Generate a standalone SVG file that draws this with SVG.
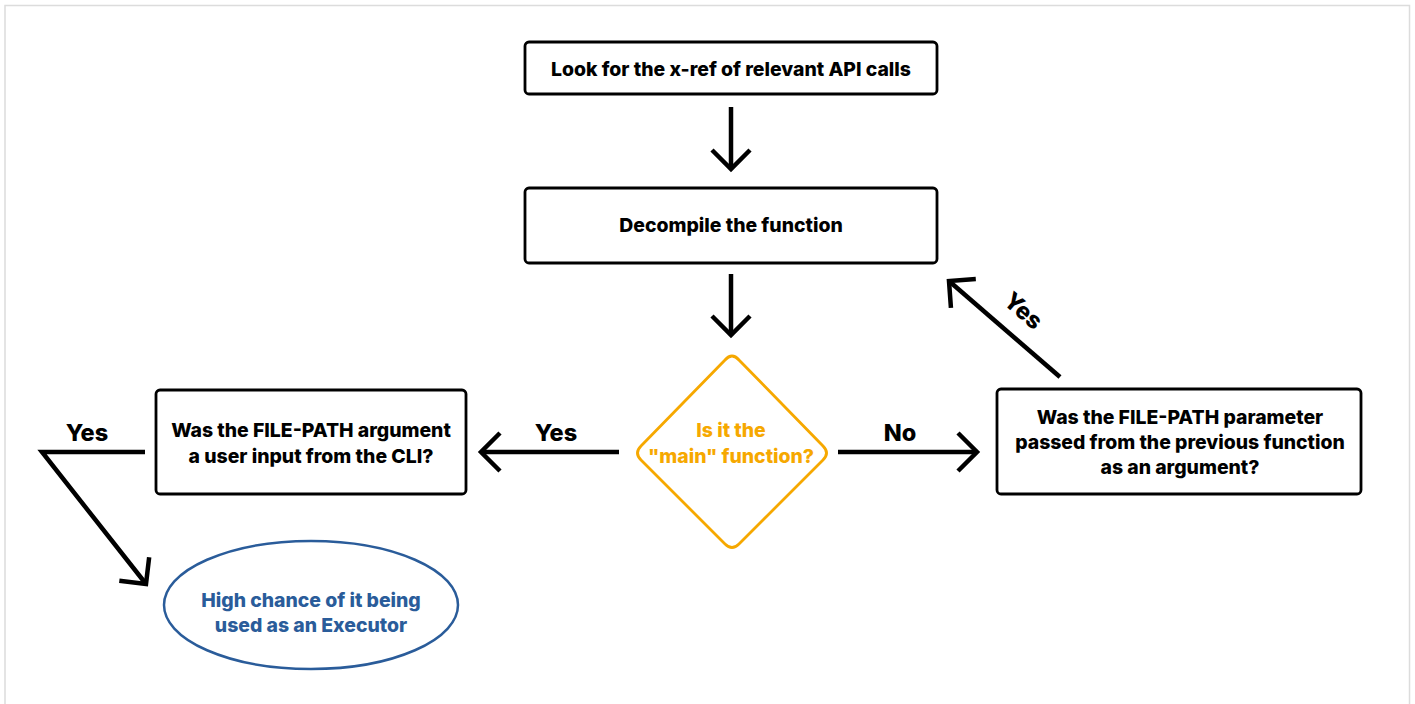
<svg xmlns="http://www.w3.org/2000/svg" width="1415" height="704" viewBox="0 0 1415 704">
<defs>
<style>
.box{fill:#fff;stroke:#000;stroke-width:2.8}
.t{font-family:Inter,"Noto Sans",sans-serif;font-weight:800;font-size:19.4px;fill:#000;text-anchor:middle}
.lbl{font-family:Inter,"Noto Sans",sans-serif;font-weight:800;font-size:23.5px;fill:#000;text-anchor:middle}
.or{fill:#f6a800}
.bl{fill:#2a5c9a}
.c{fill:none;stroke:#000;stroke-width:4.5}
</style>
<marker id="ah" markerUnits="userSpaceOnUse" viewBox="-26 -26 52 52" markerWidth="52" markerHeight="52" refX="0" refY="0" orient="auto">
<path d="M-19,-19 L0,0 L-19,19" fill="none" stroke="#000" stroke-width="4.5"/>
</marker>
</defs>
<rect x="0" y="0" width="1415" height="704" fill="#fff"/>
<rect x="5" y="5.5" width="1404.5" height="710" fill="none" stroke="#dcdcdc" stroke-width="1.5"/>

<g id="connectors">
<line class="c" x1="731" y1="107" x2="731" y2="169" marker-end="url(#ah)"/>
<line class="c" x1="731" y1="274" x2="731" y2="335" marker-end="url(#ah)"/>
<line class="c" x1="838" y1="452" x2="977" y2="452" marker-end="url(#ah)"/>
<line class="c" x1="619" y1="452" x2="481" y2="452" marker-end="url(#ah)"/>
<line class="c" x1="1060" y1="377" x2="949" y2="281" marker-end="url(#ah)"/>
<polyline class="c" points="145,452 42,452 146,584" marker-end="url(#ah)"/>
<text class="lbl" x="900" y="441">No</text>
<text class="lbl" x="556" y="441">Yes</text>
<text class="lbl" x="87" y="441">Yes</text>
<text class="lbl" transform="translate(1018,317) rotate(41)">Yes</text>
</g>

<g id="n1">
<rect class="box" x="525" y="42" width="412" height="52" rx="4"/>
<text class="t" x="731" y="76">Look for the x-ref of relevant API calls</text>
</g>
<g id="n2">
<rect class="box" x="525" y="188" width="412" height="75" rx="4"/>
<text class="t" x="731" y="232">Decompile the function</text>
</g>
<g id="n3">
<path d="M725,360 Q732,352 739,360 L823,446 Q830,453 823,460 L739,544 Q732,551 725,544 L641,460 Q634,453 641,446 Z" fill="#fff" stroke="#f6a800" stroke-width="2.8"/>
<text class="t or" x="731" y="437">Is it the</text>
<text class="t or" x="731" y="463">"main" function?</text>
</g>
<g id="n4">
<rect class="box" x="997" y="389" width="364" height="105" rx="4"/>
<text class="t" x="1180" y="424">Was the FILE-PATH parameter</text>
<text class="t" x="1180" y="449">passed from the previous function</text>
<text class="t" x="1180" y="474">as an argument?</text>
</g>
<g id="n5">
<rect class="box" x="156" y="390" width="310" height="104" rx="4"/>
<text class="t" x="311" y="437">Was the FILE-PATH argument</text>
<text class="t" x="311" y="463">a user input from the CLI?</text>
</g>
<g id="n6">
<ellipse cx="311" cy="605" rx="147" ry="64" fill="#fff" stroke="#2a5c9a" stroke-width="2.5"/>
<text class="t bl" x="311" y="607">High chance of it being</text>
<text class="t bl" x="311" y="632">used as an Executor</text>
</g>
</svg>
